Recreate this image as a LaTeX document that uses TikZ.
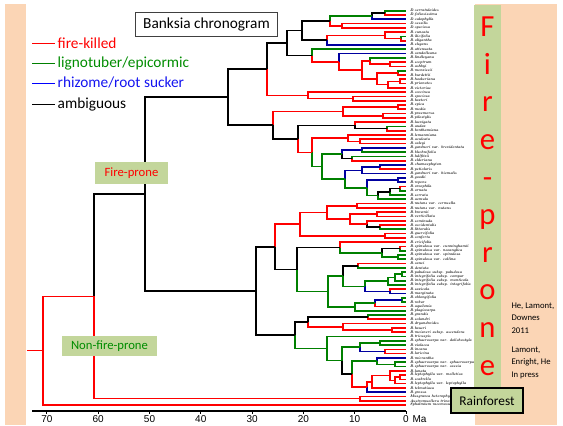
\documentclass[tikz,border=0pt]{standalone}
\usepackage{fontspec}
\usetikzlibrary{calc}
\newfontfamily\calibri{Carlito}
\newfontfamily\arialfont{Liberation Sans}

\definecolor{fkred}{RGB}{255,0,0}
\definecolor{ltgreen}{RGB}{0,128,0}
\definecolor{ltgreentext}{RGB}{0,140,0}
\definecolor{rsblue}{RGB}{0,0,160}
\definecolor{rsbluetext}{RGB}{20,20,240}
\definecolor{peach}{RGB}{251,213,181}
\definecolor{olivebox}{RGB}{195,214,155}

\tikzset{every picture/.style={line width=0.75pt}}
\tikzset{
  br/.style={line width=1.2pt},
  fk/.style={br, color=fkred},
  lt/.style={br, color=ltgreen},
  rs/.style={br, color=rsblue},
  am/.style={br, color=black},
  tiplab/.style={anchor=west, inner sep=0.75pt, font=\fontsize{2.8}{3}\selectfont\bfseries\itshape},
  legtext/.style={anchor=west, inner sep=2pt, font=\calibri\fontsize{11.5}{13}\selectfont},
  flag/.style={fill=olivebox, inner sep=0pt, font=\calibri\fontsize{9.5}{11}\selectfont},
  bigletter/.style={anchor=base, inner sep=0pt, text=fkred, font=\calibri\fontsize{23}{23}\selectfont},
  ticklab/.style={inner sep=0.75pt, font=\arialfont\fontsize{7.5}{9}\selectfont},
  reftext/.style={anchor=west, align=left, inner sep=0pt, font=\calibri\fontsize{6.5}{9.4}\selectfont}
}

% clade: name, x of the split, colour and name of the upper child, colour and name of the lower child
\newcommand\inode[6]{%
  \coordinate (m) at ($(#4)!.5!(#6)$);
  \coordinate (xr) at (#2,0);
  \coordinate (#1) at (m -| xr);
  \draw[#3] (#1) |- (#4);
  \draw[#5] (#1) |- (#6);
}

\begin{document}
\begin{tikzpicture}[x=0.75pt,y=0.75pt,yscale=-1,xscale=1]
\useasboundingbox (0,0) rectangle (563,425);

% Background strips
\fill[peach] (5,4) rectangle (26,425);
\fill[peach] (475,4) rectangle (557,425);
\fill[olivebox] (474,5) rectangle (501,395);

% Text Node
\foreach \ch [count=\k] in {F,i,r,e,-,p,r,o,n,e}
  \node[bigletter] (fl\k) at (487.5,{36.7+37.6*(\k-1)}) {\ch};

% Tips
\foreach \nm [count=\i] in {D.serratuloides, D.foliosissima, D.calophylla, D.sessilis, D.speciosa,
  B.cuneata, B.ilicifolia, B.oligantha, B.elegans, B.attenuata, B.candolleana, B.lindleyana,
  B.sceptrum, B.ashbyi, B.menziesii, B.burdettii, B.hookeriana, B.prionotes, B.victoriae,
  B.coccinea, B.speciosa, B.baxteri, B.epica, B.media, B.praemorsa, B.pilostylis, B.laevigata,
  B.audax, B.benthamiana, B.lemanniana, B.aculeata, B.caleyi, B.gardneri var. brevidentata,
  B.blechnifolia, B.lullfitzii, B.elderiana, B.chamaephyton, B.petiolaris,
  B.gardneri var. hiemalis, B.goodii, B.repens, B.oreophila, B.ornata, B.serrata, B.aemula,
  B.nutans var. cernuella, B.nutans var. nutans, B.brownii, B.verticillata, B.seminuda,
  B.occidentalis, B.littoralis, B.quercifolia, B.conferta, B.ericifolia,
  B.spinulosa var. cunninghamii, B.spinulosa var. neoanglica, B.spinulosa var. spinulosa,
  B.spinulosa var. collina, B.canei, B.dentata, B.paludosa subsp. paludosa,
  B.integrifolia subsp. compar, B.integrifolia subsp. monticola,
  B.integrifolia subsp. integrifolia, B.saxicola, B.marginata, B.oblongifolia, B.robur,
  B.aquilonia, B.plagiocarpa, B.grandis, B.solandri, B.dryandroides, B.baueri,
  B.meisneri subsp. ascendens, B.tricuspis, B.sphaerocarpa var. dolichostyla, B.violacea,
  B.incana, B.laricina, B.micrantha, B.sphaerocarpa var. sphaerocarpa,
  B.sphaerocarpa var. caesia, B.lanata, B.leptophylla var. melletica, B.scabrella,
  B.leptophylla var. leptophylla, B.telmatiaea, B.grossa, Musgravea heterophylla,
  Austromuellera trinervia, Sphalmium racemosum}
{
  \coordinate (t\i) at (406,{10.7+4.286*(\i-1)});
  \node[tiplab] (l\i) at ([xshift=2pt]t\i) {\nm};
}

% Upper clade
\inode{a1}{385}{lt}{t1}{fk}{t2}
\inode{a2}{372}{am}{a1}{rs}{t3}
\inode{a3}{342}{fk}{t4}{fk}{t5}
\inode{a4}{330}{lt}{a2}{fk}{a3}
\inode{a5}{401}{lt}{t7}{fk}{t8}
\inode{a6}{385}{fk}{t6}{fk}{a5}
\inode{a7}{327}{fk}{a6}{rs}{t9}
\inode{a8}{302}{am}{a4}{am}{a7}
\inode{b1}{390}{fk}{t13}{fk}{t14}
\inode{b2}{370}{lt}{t12}{fk}{b1}
\inode{b3}{398}{lt}{t15}{fk}{t16}
\inode{b4}{400}{fk}{t17}{fk}{t18}
\inode{b5}{388}{fk}{b4}{fk}{t19}
\inode{b6}{377}{fk}{b3}{fk}{b5}
\inode{b7}{362}{fk}{b2}{fk}{b6}
\inode{b8}{339}{rs}{t11}{fk}{b7}
\inode{b9}{312}{lt}{t10}{fk}{b8}
\inode{b10}{287}{am}{a8}{am}{b9}
\inode{c1}{353}{fk}{t21}{fk}{t22}
\inode{c2}{308}{fk}{t20}{fk}{c1}
\inode{c3}{267}{am}{b10}{fk}{c2}
\inode{d1}{398}{fk}{t23}{fk}{t24}
\inode{d2}{383}{fk}{t25}{fk}{t26}
\inode{d3}{343}{fk}{d1}{fk}{d2}
\inode{d4}{387}{lt}{t28}{fk}{t29}
\inode{d5}{355}{fk}{t27}{am}{d4}
\inode{e1}{360}{fk}{t31}{fk}{t32}
\inode{e2}{348}{fk}{t30}{fk}{e1}
\inode{e3}{362}{rs}{t33}{lt}{t34}
\inode{e4}{352}{lt}{t35}{fk}{t36}
\inode{e5}{342}{rs}{e3}{am}{e4}
\inode{e6}{380}{rs}{t37}{fk}{t38}
\inode{e7}{362}{rs}{e6}{rs}{t39}
\inode{e8}{398}{rs}{t40}{rs}{t41}
\inode{e9}{400}{fk}{t42}{lt}{t43}
\inode{e10}{390}{am}{e9}{lt}{t44}
\inode{e11}{378}{am}{e10}{lt}{t45}
\inode{e12}{367}{rs}{e8}{lt}{e11}
\inode{e13}{345}{rs}{e7}{lt}{e12}
\inode{e14}{322}{lt}{e5}{lt}{e13}
\inode{e15}{312}{fk}{e2}{lt}{e14}
\inode{e16}{298}{am}{d5}{fk}{e15}
\inode{e17}{273}{fk}{d3}{am}{e16}
\inode{f1}{228}{am}{c3}{am}{e17}

% Lower clade
\inode{g1}{357}{fk}{t46}{fk}{t47}
\inode{g2}{377}{fk}{t48}{fk}{t49}
\inode{g3}{380}{fk}{t51}{lt}{t52}
\inode{g4}{367}{fk}{t50}{am}{g3}
\inode{g5}{350}{fk}{g2}{fk}{g4}
\inode{g6}{327}{fk}{g1}{fk}{g5}
\inode{g7}{385}{fk}{t53}{fk}{t54}
\inode{g8}{300}{fk}{g6}{fk}{g7}
\inode{h1}{400}{fk}{t56}{lt}{t57}
\inode{h2}{398}{lt}{t58}{lt}{t59}
\inode{h3}{382}{am}{h1}{lt}{h2}
\inode{h4}{340}{fk}{t55}{lt}{h3}
\inode{h5}{358}{fk}{t60}{lt}{t61}
\inode{h6}{402}{lt}{t62}{lt}{t63}
\inode{h7}{395}{lt}{h6}{lt}{t64}
\inode{h8}{388}{lt}{h7}{lt}{t65}
\inode{h9}{390}{fk}{t66}{rs}{t67}
\inode{h10}{365}{lt}{h8}{rs}{h9}
\inode{h11}{343}{am}{h5}{lt}{h10}
\inode{h12}{402}{lt}{t68}{lt}{t69}
\inode{h13}{375}{rs}{h12}{fk}{t70}
\inode{h14}{355}{lt}{h13}{lt}{t71}
\inode{h15}{328}{lt}{h11}{lt}{h14}
\inode{h16}{297}{am}{h4}{lt}{h15}
\inode{h17}{275}{fk}{g8}{am}{h16}
\inode{k1}{368}{lt}{t72}{fk}{t73}
\inode{k2}{392}{fk}{t75}{fk}{t76}
\inode{k3}{343}{fk}{t74}{fk}{k2}
\inode{k4}{308}{am}{k1}{fk}{k3}
\inode{k5}{380}{lt}{t78}{lt}{t79}
\inode{k6}{385}{fk}{t80}{fk}{t81}
\inode{k7}{360}{lt}{k5}{rs}{k6}
\inode{k8}{395}{lt}{t83}{lt}{t84}
\inode{k9}{377}{rs}{t82}{lt}{k8}
\inode{k10}{400}{fk}{t86}{fk}{t87}
\inode{k11}{395}{fk}{k10}{fk}{t88}
\inode{k12}{390}{fk}{t85}{fk}{k11}
\inode{k13}{372}{fk}{k12}{fk}{t89}
\inode{k14}{367}{fk}{k13}{rs}{t90}
\inode{k15}{352}{lt}{k9}{fk}{k14}
\inode{k16}{342}{lt}{k7}{am}{k15}
\inode{k17}{327}{lt}{t77}{lt}{k16}
\inode{k18}{295}{am}{k4}{lt}{k17}
\inode{m1}{256}{am}{h17}{am}{k18}

% Backbone and outgroups
\inode{crown}{145}{am}{f1}{am}{m1}
\inode{m2}{360}{fk}{t91}{fk}{t92}
\inode{m3}{94}{am}{crown}{fk}{m2}
\inode{root}{43}{fk}{m3}{fk}{t93}
\coordinate (rstem) at (27,0);
\draw[fk] (root) -- (root -| rstem);

% Time axis
\coordinate (ax0) at (32,411);
\coordinate (ax1) at (406,411);
\draw[line width=1pt] (ax0) -- (ax1);
\foreach \t in {0,10,...,70} {
  \coordinate (tk\t) at ({406-5.13*\t},411);
  \draw (tk\t) -- ++(0,2.5);
  \node[ticklab] (tl\t) at ({406-5.13*\t},419) {\t};
}
\node[ticklab, anchor=west] (unit) at (411,419) {Ma};

% Legend
\node[legtext, text=fkred] (lg1) at (54.5,43) {fire-killed};
\node[legtext, text=ltgreentext] (lg2) at (54.5,63) {lignotuber/epicormic};
\node[legtext, text=rsbluetext] (lg3) at (54.5,83) {rhizome/root sucker};
\node[legtext, text=black] (lg4) at (54.5,104) {ambiguous};
\coordinate (ls1) at (32,43);
\coordinate (ls2) at (32,63);
\coordinate (ls3) at (32,83);
\coordinate (ls4) at (32,104);
\draw[fkred] (ls1) -- (lg1.west);
\draw[ltgreen] (ls2) -- (lg2.west);
\draw[blue] (ls3) -- (lg3.west);
\draw[black] (ls4) -- (lg4.west);

% Text Node
\node[draw={rgb, 255:red, 64; green, 64; blue, 64}, fill=white, minimum width=107pt, minimum height=18pt, inner sep=0pt, font=\calibri\fontsize{11.5}{13}\selectfont] (title) at (206.5,24) {Banksia chronogram};
% Text Node
\node[flag, minimum width=54.75pt, minimum height=16.5pt, text=fkred] (fp) at (131.5,173) {Fire-prone};
% Text Node
\node[flag, minimum width=71.25pt, minimum height=15pt, text=ltgreentext] (nfp) at (109.5,346) {Non-fire-prone};
% Text Node
\node[flag, draw=black, line width=1pt, minimum width=54pt, minimum height=18.75pt, font=\calibri\fontsize{10}{12}\selectfont] (rf) at (487,400.5) {Rainforest};
% Text Node
\node[reftext] (ref1) at (511,318) {He, Lamont,\\Downes\\2011};
% Text Node
\node[reftext] (ref2) at (511,362.5) {Lamont,\\Enright, He\\In press};

\end{tikzpicture}
\end{document}
